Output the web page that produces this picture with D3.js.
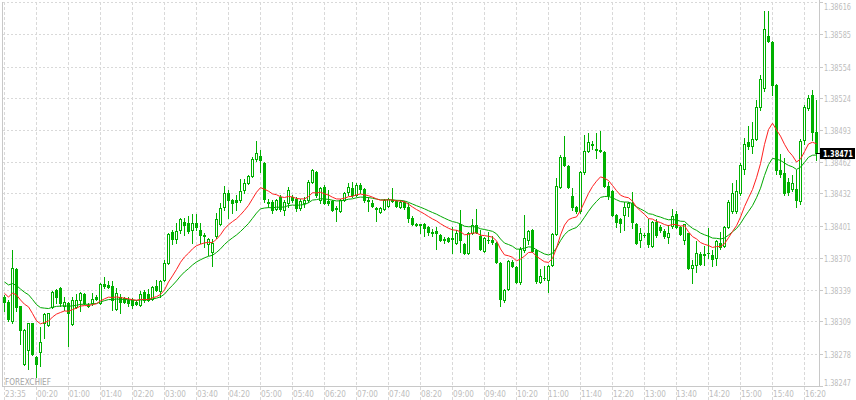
<!DOCTYPE html>
<html><head><meta charset="utf-8">
<script src="https://cdn.jsdelivr.net/npm/d3@7"></script>
<style>html,body{margin:0;padding:0;background:#fff;}svg{display:block;}</style>
</head><body>
<svg id="chart" width="856" height="400"></svg>
<script>
// ---- data ----
const timeLabels = ["23:35","00:20","01:00","01:40","02:20","03:00","03:40","04:20","05:00","05:40","06:20","07:00","07:40","08:20","09:00","09:40","10:20","11:00","11:40","12:20","13:00","13:40","14:20","15:00","15:40","16:20"];
const priceTicks = [1.38616,1.38585,1.38554,1.38524,1.38493,1.38462,1.38432,1.38401,1.38370,1.38339,1.38309,1.38278,1.38247];
const opens = [1.38333,1.38328,1.38309,1.38359,1.38324,1.38268,1.38282,1.38308,1.38275,1.38280,
1.38308,1.38306,1.38323,1.38339,1.38341,1.38324,1.38327,1.38307,1.38323,1.38330,
1.38335,1.38325,1.38327,1.38333,1.38327,1.38345,1.38344,1.38343,1.38321,1.38333,
1.38332,1.38330,1.38330,1.38328,1.38325,1.38337,1.38335,1.38331,1.38343,1.38338,
1.38349,1.38365,1.38395,1.38388,1.38397,1.38405,1.38404,1.38397,1.38404,1.38397,
1.38391,1.38383,1.38376,1.38391,1.38403,1.38419,1.38432,1.38426,1.38426,1.38426,
1.38435,1.38442,1.38449,1.38465,1.38468,1.38461,1.38424,1.38424,1.38417,1.38429,
1.38416,1.38423,1.38429,1.38427,1.38418,1.38423,1.38426,1.38443,1.38453,1.38426,
1.38438,1.38425,1.38425,1.38418,1.38415,1.38426,1.38433,1.38437,1.38431,1.38440,
1.38436,1.38426,1.38423,1.38418,1.38414,1.38417,1.38420,1.38426,1.38425,1.38419,
1.38424,1.38419,1.38408,1.38403,1.38403,1.38403,1.38400,1.38395,1.38396,1.38392,
1.38388,1.38389,1.38389,1.38384,1.38403,1.38383,1.38375,1.38394,1.38402,1.38391,
1.38377,1.38387,1.38387,1.38384,1.38365,1.38330,1.38340,1.38366,1.38361,1.38347,
1.38378,1.38387,1.38397,1.38378,1.38347,1.38351,1.38349,1.38363,1.38393,1.38438,
1.38467,1.38458,1.38430,1.38419,1.38415,1.38453,1.38473,1.38480,1.38475,1.38474,
1.38472,1.38439,1.38434,1.38411,1.38407,1.38411,1.38419,1.38423,1.38403,1.38387,
1.38392,1.38394,1.38382,1.38405,1.38400,1.38396,1.38390,1.38401,1.38412,1.38400,
1.38387,1.38394,1.38360,1.38363,1.38374,1.38374,1.38375,1.38373,1.38370,1.38384,
1.38382,1.38400,1.38415,1.38415,1.38432,1.38456,1.38481,1.38478,1.38484,1.38515,
1.38533,1.38583,1.38578,1.38536,1.38455,1.38452,1.38443,1.38436,1.38436,1.38425,
1.38483,1.38514,1.38527,1.38491];
const highs = [1.38334,1.38330,1.38378,1.38360,1.38324,1.38302,1.38308,1.38308,1.38276,1.38304,
1.38317,1.38317,1.38338,1.38340,1.38342,1.38333,1.38328,1.38333,1.38335,1.38337,
1.38336,1.38327,1.38336,1.38334,1.38346,1.38352,1.38348,1.38348,1.38341,1.38335,
1.38333,1.38333,1.38332,1.38330,1.38338,1.38339,1.38340,1.38343,1.38349,1.38349,
1.38368,1.38394,1.38397,1.38404,1.38408,1.38408,1.38410,1.38412,1.38412,1.38404,
1.38394,1.38389,1.38388,1.38413,1.38423,1.38439,1.38435,1.38427,1.38431,1.38446,
1.38446,1.38450,1.38467,1.38482,1.38474,1.38462,1.38427,1.38426,1.38427,1.38431,
1.38426,1.38438,1.38431,1.38429,1.38427,1.38429,1.38445,1.38456,1.38454,1.38438,
1.38440,1.38435,1.38426,1.38420,1.38427,1.38433,1.38442,1.38443,1.38442,1.38442,
1.38437,1.38429,1.38426,1.38419,1.38419,1.38427,1.38428,1.38437,1.38426,1.38426,
1.38425,1.38423,1.38410,1.38404,1.38403,1.38404,1.38401,1.38398,1.38400,1.38393,
1.38390,1.38390,1.38400,1.38397,1.38416,1.38384,1.38395,1.38407,1.38417,1.38397,
1.38390,1.38395,1.38391,1.38385,1.38366,1.38340,1.38368,1.38368,1.38362,1.38381,
1.38411,1.38397,1.38398,1.38379,1.38359,1.38362,1.38363,1.38394,1.38447,1.38469,
1.38487,1.38459,1.38437,1.38420,1.38454,1.38488,1.38490,1.38482,1.38490,1.38492,
1.38473,1.38443,1.38435,1.38412,1.38408,1.38424,1.38424,1.38433,1.38404,1.38399,
1.38394,1.38407,1.38406,1.38407,1.38402,1.38398,1.38402,1.38417,1.38415,1.38401,
1.38403,1.38394,1.38368,1.38386,1.38376,1.38382,1.38399,1.38378,1.38387,1.38395,
1.38401,1.38426,1.38442,1.38445,1.38461,1.38485,1.38497,1.38501,1.38522,1.38546,
1.38607,1.38607,1.38579,1.38537,1.38470,1.38466,1.38447,1.38450,1.38455,1.38484,
1.38517,1.38527,1.38531,1.38522];
const lows = [1.38319,1.38309,1.38308,1.38319,1.38287,1.38267,1.38263,1.38277,1.38256,1.38266,
1.38293,1.38305,1.38322,1.38327,1.38324,1.38320,1.38285,1.38306,1.38322,1.38319,
1.38326,1.38323,1.38325,1.38330,1.38326,1.38341,1.38341,1.38320,1.38320,1.38317,
1.38327,1.38324,1.38322,1.38325,1.38324,1.38328,1.38329,1.38330,1.38338,1.38333,
1.38348,1.38364,1.38383,1.38384,1.38394,1.38392,1.38394,1.38384,1.38397,1.38384,
1.38381,1.38373,1.38362,1.38389,1.38402,1.38416,1.38408,1.38413,1.38416,1.38424,
1.38432,1.38441,1.38448,1.38463,1.38453,1.38424,1.38419,1.38413,1.38416,1.38415,
1.38411,1.38419,1.38424,1.38415,1.38416,1.38419,1.38424,1.38442,1.38429,1.38423,
1.38422,1.38421,1.38415,1.38406,1.38414,1.38425,1.38431,1.38429,1.38430,1.38432,
1.38424,1.38415,1.38419,1.38406,1.38413,1.38416,1.38419,1.38424,1.38419,1.38418,
1.38417,1.38405,1.38402,1.38401,1.38394,1.38391,1.38392,1.38391,1.38379,1.38386,
1.38384,1.38385,1.38375,1.38383,1.38376,1.38374,1.38374,1.38393,1.38394,1.38378,
1.38376,1.38384,1.38383,1.38365,1.38324,1.38328,1.38339,1.38361,1.38346,1.38345,
1.38376,1.38383,1.38376,1.38346,1.38346,1.38349,1.38337,1.38362,1.38392,1.38437,
1.38458,1.38437,1.38416,1.38413,1.38413,1.38451,1.38472,1.38475,1.38466,1.38472,
1.38438,1.38427,1.38410,1.38400,1.38395,1.38397,1.38410,1.38399,1.38383,1.38381,
1.38390,1.38381,1.38381,1.38390,1.38395,1.38389,1.38384,1.38399,1.38399,1.38392,
1.38383,1.38359,1.38346,1.38357,1.38363,1.38363,1.38370,1.38362,1.38363,1.38379,
1.38381,1.38399,1.38413,1.38413,1.38431,1.38451,1.38475,1.38471,1.38483,1.38512,
1.38530,1.38578,1.38527,1.38451,1.38448,1.38431,1.38431,1.38434,1.38419,1.38422,
1.38480,1.38512,1.38483,1.38464];
const closes = [1.38328,1.38311,1.38360,1.38323,1.38301,1.38301,1.38308,1.38278,1.38268,1.38289,
1.38316,1.38317,1.38337,1.38333,1.38327,1.38328,1.38317,1.38330,1.38330,1.38336,
1.38327,1.38324,1.38331,1.38331,1.38345,1.38343,1.38342,1.38330,1.38336,1.38328,
1.38328,1.38327,1.38325,1.38326,1.38335,1.38330,1.38330,1.38342,1.38339,1.38348,
1.38365,1.38393,1.38388,1.38396,1.38407,1.38402,1.38396,1.38404,1.38400,1.38392,
1.38392,1.38388,1.38384,1.38407,1.38418,1.38432,1.38426,1.38423,1.38424,1.38434,
1.38442,1.38449,1.38465,1.38471,1.38464,1.38427,1.38423,1.38416,1.38426,1.38417,
1.38424,1.38435,1.38426,1.38418,1.38425,1.38426,1.38443,1.38455,1.38431,1.38437,
1.38423,1.38423,1.38416,1.38417,1.38426,1.38432,1.38438,1.38431,1.38440,1.38436,
1.38426,1.38425,1.38420,1.38417,1.38418,1.38426,1.38427,1.38425,1.38420,1.38424,
1.38419,1.38408,1.38403,1.38402,1.38402,1.38399,1.38395,1.38394,1.38394,1.38387,
1.38387,1.38386,1.38388,1.38394,1.38387,1.38375,1.38394,1.38402,1.38395,1.38379,
1.38389,1.38387,1.38385,1.38366,1.38331,1.38339,1.38367,1.38362,1.38347,1.38379,
1.38389,1.38396,1.38377,1.38348,1.38353,1.38351,1.38362,1.38393,1.38439,1.38467,
1.38459,1.38438,1.38419,1.38415,1.38453,1.38473,1.38481,1.38479,1.38474,1.38473,
1.38439,1.38431,1.38411,1.38405,1.38404,1.38419,1.38423,1.38405,1.38384,1.38394,
1.38392,1.38383,1.38405,1.38392,1.38397,1.38391,1.38394,1.38410,1.38400,1.38393,
1.38403,1.38360,1.38363,1.38375,1.38364,1.38373,1.38375,1.38369,1.38386,1.38381,
1.38400,1.38424,1.38432,1.38434,1.38459,1.38480,1.38478,1.38484,1.38515,1.38542,
1.38590,1.38579,1.38536,1.38455,1.38451,1.38432,1.38433,1.38442,1.38426,1.38482,
1.38515,1.38524,1.38491,1.38471];
const lastPrice = 1.38471;
// moving-average indicator settings (values at first visible bar)
const fastMA = {period: 13, start: 1.38336};
const slowMA = {period: 24, start: 1.38347};
const watermark = "FOREXCHIEF";

// ---- drawing ----
const W = 856, H = 400;
const plot = {left: 2, right: 819, top: 2, bottom: 386};
const n = closes.length;
const x = d3.scaleLinear().domain([0, n - 1]).range([4.5, 4.5 + 4 * (n - 1)]);
const y = d3.scaleLinear().domain([priceTicks[priceTicks.length - 1], priceTicks[0]]).range([plot.bottom, plot.top]);

const candleColor = "#00b000";
const gridColor = "#d9d9d9";
const axisColor = "#c8c8c8";
const labelColor = "#bdbdbd";
const font = "'DejaVu Sans', sans-serif";

const svg = d3.select("#chart");
svg.append("rect").attr("width", W).attr("height", H).attr("fill", "#fff");

// narrow text: scale horizontally to the width seen in the chart
function narrowText(parent, tx, ty, str, width, opts) {
  const t = parent.append("text").text(str)
    .attr("font-family", font).attr("font-size", opts.size || 9.5)
    .attr("font-weight", opts.weight || "normal").attr("fill", opts.fill);
  const natural = t.node().getComputedTextLength() || width;
  t.attr("transform", `translate(${tx},${ty}) scale(${width / natural},1)`);
  return t;
}

// grid
const grid = svg.append("g").attr("shape-rendering", "crispEdges");
priceTicks.slice(0, -1).forEach(p => {
  const yy = Math.round(y(p)) + 0.5;
  grid.append("line").attr("x1", plot.left + 1).attr("x2", plot.right).attr("y1", yy).attr("y2", yy)
    .attr("stroke", gridColor).attr("stroke-dasharray", "2,2");
});
timeLabels.forEach((t, k) => {
  const xx = Math.round(x(8 * k) - 0.5) + 0.5;
  grid.append("line").attr("x1", xx).attr("x2", xx).attr("y1", plot.top).attr("y2", H)
    .attr("stroke", gridColor).attr("stroke-dasharray", "3,2");
});

// borders
const border = svg.append("g").attr("shape-rendering", "crispEdges").attr("stroke", axisColor);
border.append("line").attr("x1", plot.left + 0.5).attr("x2", plot.left + 0.5).attr("y1", plot.top).attr("y2", plot.bottom + 1);
border.append("line").attr("x1", plot.right + 0.5).attr("x2", plot.right + 0.5).attr("y1", 0).attr("y2", plot.bottom + 1);
border.append("line").attr("x1", plot.left).attr("x2", plot.right + 1).attr("y1", plot.bottom + 0.5).attr("y2", plot.bottom + 0.5);

// watermark
narrowText(svg, 5, 385, watermark, 46, {size: 9.5, fill: "#a3a3a3"});

// candles
const cg = svg.append("g").attr("shape-rendering", "crispEdges");
for (let i = 0; i < n; i++) {
  const cx = Math.round(x(i) - 0.5);
  const yH = Math.round(y(highs[i])), yL = Math.round(y(lows[i]));
  const yO = Math.round(y(opens[i])), yC = Math.round(y(closes[i]));
  const top = Math.min(yO, yC), bot = Math.max(yO, yC);
  cg.append("rect").attr("x", cx).attr("y", yH).attr("width", 1).attr("height", Math.max(1, yL - yH + 1)).attr("fill", candleColor);
  cg.append("rect").attr("x", cx - 1).attr("y", top).attr("width", 3).attr("height", bot - top + 1).attr("fill", candleColor);
  if (closes[i] > opens[i] && bot - top >= 2) {
    cg.append("rect").attr("x", cx).attr("y", top + 1).attr("width", 1).attr("height", bot - top - 1).attr("fill", "#fff");
  }
}

// moving averages (exponential, computed from closes)
function ema(vals, cfg) {
  const a = 2 / (cfg.period + 1);
  let e = cfg.start;
  return vals.map((v, i) => (i === 0 ? e : (e = e + a * (v - e))));
}
const line = d3.line().x((d, i) => x(i)).y(d => y(d));
svg.append("path").datum(ema(closes, slowMA)).attr("d", line).attr("fill", "none").attr("stroke", "#00a800").attr("stroke-width", 1);
svg.append("path").datum(ema(closes, fastMA)).attr("d", line).attr("fill", "none").attr("stroke", "#ff2020").attr("stroke-width", 1);

// price axis
const ax = svg.append("g");
priceTicks.forEach(p => {
  const yy = Math.round(y(p)) + 0.5;
  ax.append("line").attr("x1", plot.right).attr("x2", plot.right + 4).attr("y1", yy).attr("y2", yy)
    .attr("stroke", axisColor).attr("shape-rendering", "crispEdges");
  const ty = Math.max(6, Math.min(382, yy));
  narrowText(ax, 824, ty + 3.5, p.toFixed(5), 27, {size: 9.5, fill: labelColor});
});

// time axis
timeLabels.forEach((t, k) => {
  narrowText(ax, Math.round(x(8 * k)), 397, t, 21, {size: 9.5, fill: labelColor});
});

// current price marker
const ly = Math.round(y(lastPrice));
svg.append("line").attr("x1", 816).attr("x2", 821).attr("y1", ly + 0.5).attr("y2", ly + 0.5)
  .attr("stroke", "#000").attr("shape-rendering", "crispEdges");
svg.append("rect").attr("x", 820).attr("y", ly - 5).attr("width", 35).attr("height", 11).attr("fill", "#000");
narrowText(svg, 823, ly + 4, lastPrice.toFixed(5), 30, {size: 9.5, weight: "bold", fill: "#fff"});
</script>
</body></html>
